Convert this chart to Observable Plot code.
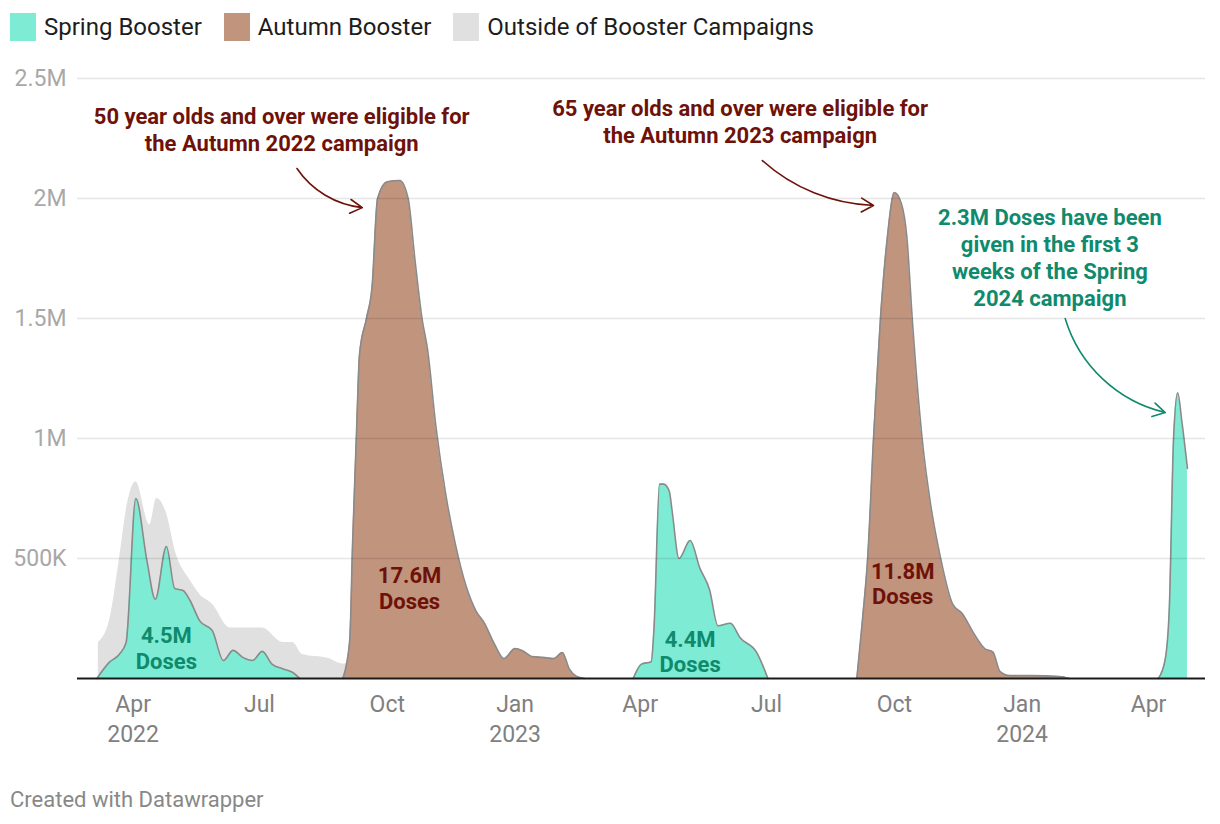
<!DOCTYPE html>
<html><head><meta charset="utf-8">
<script src="https://cdn.jsdelivr.net/npm/d3@7"></script>
<script src="https://cdn.jsdelivr.net/npm/@observablehq/plot@0.6"></script>
<style>
body{margin:0;background:#fff;font-family:Roboto,sans-serif;width:1220px;height:824px;position:relative;overflow:hidden}
#legend{position:absolute;left:10px;top:13px;display:flex;align-items:center;font-size:24px;color:#1d1d1d;line-height:28px}
.item{display:flex;align-items:center;margin-right:22px}
.sw{width:26px;height:28px;margin-right:8px}
#chart{position:absolute;left:0;top:50px}
#footer{position:absolute;left:10px;top:787px;font-size:22px;color:#888}
</style></head>
<body>
<div id="legend"></div>
<div id="chart"></div>
<div id="footer">Created with Datawrapper</div>
<script>
// ---- Data (weekly doses) ----
const legendLabels = ["Spring Booster", "Autumn Booster", "Outside of Booster Campaigns"];
const legendColors = ["#7eecd4", "#c1947e", "#e0e0e0"];

const outsideDates = ["2022-03-07","2022-03-15","2022-03-22","2022-03-28","2022-04-03","2022-04-13","2022-04-18","2022-04-25","2022-05-02","2022-05-12","2022-05-19","2022-05-28","2022-06-10","2022-06-22","2022-07-03","2022-07-18","2022-07-25","2022-08-01","2022-08-20","2022-08-30","2022-09-04"];
const outsideValues = [150000,240000,490000,730000,820000,640000,750000,690000,520000,410000,350000,310000,210000,210000,210000,150000,150000,100000,83000,60000,70000];

const spring2022Dates = ["2022-03-06","2022-03-15","2022-03-22","2022-03-27","2022-04-03","2022-04-11","2022-04-17","2022-04-25","2022-05-01","2022-05-07","2022-05-12","2022-05-19","2022-05-28","2022-06-05","2022-06-12","2022-06-19","2022-06-26","2022-07-03","2022-07-10","2022-07-18","2022-07-25","2022-07-30"];
const spring2022Values = [0,68000,100000,150000,750000,490000,330000,550000,375000,367000,325000,240000,200000,75000,117000,88000,75000,113000,60000,40000,25000,0];

const autumn2022Dates = ["2022-08-30","2022-09-04","2022-09-06","2022-09-09","2022-09-11","2022-09-16","2022-09-20","2022-09-24","2022-10-01","2022-10-10","2022-10-16","2022-10-21","2022-10-26","2022-10-30","2022-11-05","2022-11-12","2022-11-19","2022-11-27","2022-12-04","2022-12-10","2022-12-17","2022-12-24","2023-01-01","2023-01-06","2023-01-13","2023-01-21","2023-01-29","2023-02-04","2023-02-09","2023-02-14","2023-02-20"];
const autumn2022Values = [0,160000,560000,1050000,1350000,1500000,1630000,2000000,2070000,2075000,2000000,1740000,1500000,1370000,1050000,770000,560000,380000,280000,230000,145000,83000,125000,117000,92000,88000,83000,108000,40000,10000,0];

const spring2023Dates = ["2023-03-27","2023-04-02","2023-04-09","2023-04-11","2023-04-15","2023-04-18","2023-04-22","2023-04-24","2023-04-29","2023-05-07","2023-05-14","2023-05-21","2023-05-27","2023-06-05","2023-06-12","2023-06-24","2023-07-02"];
const spring2023Values = [0,60000,70000,210000,810000,810000,780000,700000,500000,575000,460000,370000,220000,230000,170000,108000,0];

const autumn2023Dates = ["2023-09-04","2023-09-08","2023-09-12","2023-09-16","2023-09-21","2023-09-26","2023-10-01","2023-10-06","2023-10-10","2023-10-14","2023-10-21","2023-10-27","2023-11-03","2023-11-12","2023-11-19","2023-11-27","2023-12-05","2023-12-11","2023-12-16","2023-12-23","2024-01-07","2024-01-28","2024-02-04"];
const autumn2023Values = [0,240000,520000,1000000,1500000,1840000,2025000,1980000,1840000,1490000,1000000,730000,510000,310000,270000,190000,125000,110000,30000,12000,12000,8000,0];

const spring2024Dates = ["2024-04-08","2024-04-13","2024-04-16","2024-04-19","2024-04-22","2024-04-25","2024-04-29"];
const spring2024Values = [0,80000,300000,1000000,1190000,1070000,875000];

const xTickDates = ["2022-04-01","2022-07-01","2022-10-01","2023-01-01","2023-04-01","2023-07-01","2023-10-01","2024-01-01","2024-04-01"];
const xTickLabels = ["Apr\n2022","Jul","Oct","Jan\n2023","Apr","Jul","Oct","Jan\n2024","Apr"];
const yTickValues = [500000,1000000,1500000,2000000,2500000];
const yTickLabels = ["500K","1M","1.5M","2M","2.5M"];

const totalLabels = ["4.5M\nDoses","17.6M\nDoses","4.4M\nDoses","11.8M\nDoses"];
const totalLabelDates = ["2022-04-25","2022-10-17","2023-05-07","2023-10-07"];
const totalLabelValues = [127000,377000,112000,396000];
const totalLabelColors = ["#0f8a6c","#6e1209","#0f8a6c","#6e1209"];

const noteTexts = ["50 year olds and over were eligible for\nthe Autumn 2022 campaign","65 year olds and over were eligible for\nthe Autumn 2023 campaign","2.3M Doses have been\ngiven in the first 3\nweeks of the Spring\n2024 campaign"];
const noteDates = ["2022-07-17","2023-06-12","2024-01-21"];
const noteValues = [2290000,2323000,1756000];
const noteColors = ["#6e1209","#6e1209","#0f8a6c"];

const arrowFrom = [["2022-07-28",2125000],["2023-06-28",2158000],["2024-02-01",1500000]];
const arrowTo = [["2022-09-13",1962000],["2023-09-16",1971000],["2024-04-13",1108000]];
const arrowBends = [-25,-20,-30];

// ---- Build tables ----
const rows = (dates, values) => dates.map((d, i) => ({date: new Date(d), value: values[i]}));
const outsideRows = rows(outsideDates, outsideValues);
const campaigns = [
  {rows: rows(spring2022Dates, spring2022Values), color: legendColors[0]},
  {rows: rows(autumn2022Dates, autumn2022Values), color: legendColors[1]},
  {rows: rows(spring2023Dates, spring2023Values), color: legendColors[0]},
  {rows: rows(autumn2023Dates, autumn2023Values), color: legendColors[1]},
  {rows: rows(spring2024Dates, spring2024Values), color: legendColors[0]}
];
const xTicks = xTickDates.map((d, i) => ({date: new Date(d), label: xTickLabels[i]}));
const yTicks = yTickValues.map((v, i) => ({value: v, label: yTickLabels[i]}));
const totals = totalLabels.map((t, i) => ({text: t, date: new Date(totalLabelDates[i]), value: totalLabelValues[i], color: totalLabelColors[i]}));
const notes = noteTexts.map((t, i) => ({text: t, date: new Date(noteDates[i]), value: noteValues[i], color: noteColors[i]}));

// ---- Legend ----
const legend = document.getElementById("legend");
legendLabels.forEach((l, i) => {
  const it = document.createElement("div"); it.className = "item";
  const sw = document.createElement("div"); sw.className = "sw"; sw.style.background = legendColors[i];
  const tx = document.createElement("span"); tx.textContent = l;
  it.appendChild(sw); it.appendChild(tx); legend.appendChild(it);
});

// ---- Chart ----
const curve = "monotone-x";
const marks = [
  Plot.areaY(outsideRows, {x: "date", y: "value", fill: legendColors[2], curve})
];
campaigns.forEach(c => {
  marks.push(Plot.areaY(c.rows, {x: "date", y: "value", fill: c.color, curve}));
});
campaigns.forEach(c => {
  marks.push(Plot.lineY(c.rows, {x: "date", y: "value", stroke: "#8a8a8a", strokeWidth: 1.6, curve}));
});
marks.push(
  Plot.ruleY(yTicks, {y: "value", stroke: "#000", strokeOpacity: 0.1, strokeWidth: 1.5}),
  Plot.ruleY([0], {stroke: "#1a1a1a", strokeWidth: 2}),
  Plot.text(yTicks, {y: "value", text: "label", frameAnchor: "left", textAnchor: "end", dx: -11, fontSize: 23, fill: "#a8a8a8"}),
  Plot.text(xTicks, {x: "date", text: "label", frameAnchor: "bottom", lineAnchor: "top", dy: 12, fontSize: 23, fill: "#808080", lineHeight: 1.3}),
  Plot.text(totals, {x: "date", y: "value", text: "text", fill: "color", fontSize: 22, fontWeight: "bold", lineHeight: 1.15}),
  Plot.text(notes, {x: "date", y: "value", text: "text", fill: "color", fontSize: 22, fontWeight: "bold", lineHeight: 1.23})
);
arrowFrom.forEach((f, i) => {
  marks.push(Plot.arrow([0], {
    x1: () => new Date(f[0]), y1: () => f[1],
    x2: () => new Date(arrowTo[i][0]), y2: () => arrowTo[i][1],
    bend: arrowBends[i], stroke: noteColors[i], strokeWidth: 1.6, headLength: 13
  }));
});

const chart = Plot.plot({
  width: 1220, height: 700,
  marginLeft: 77, marginRight: 15, marginTop: 28, marginBottom: 72,
  style: {fontFamily: "Roboto, sans-serif", background: "#fff"},
  x: {type: "utc", domain: [new Date("2022-02-20"), new Date("2024-05-12")], axis: null},
  y: {domain: [0, 2500000], axis: null},
  marks
});
document.getElementById("chart").appendChild(chart);
</script>
</body></html>
